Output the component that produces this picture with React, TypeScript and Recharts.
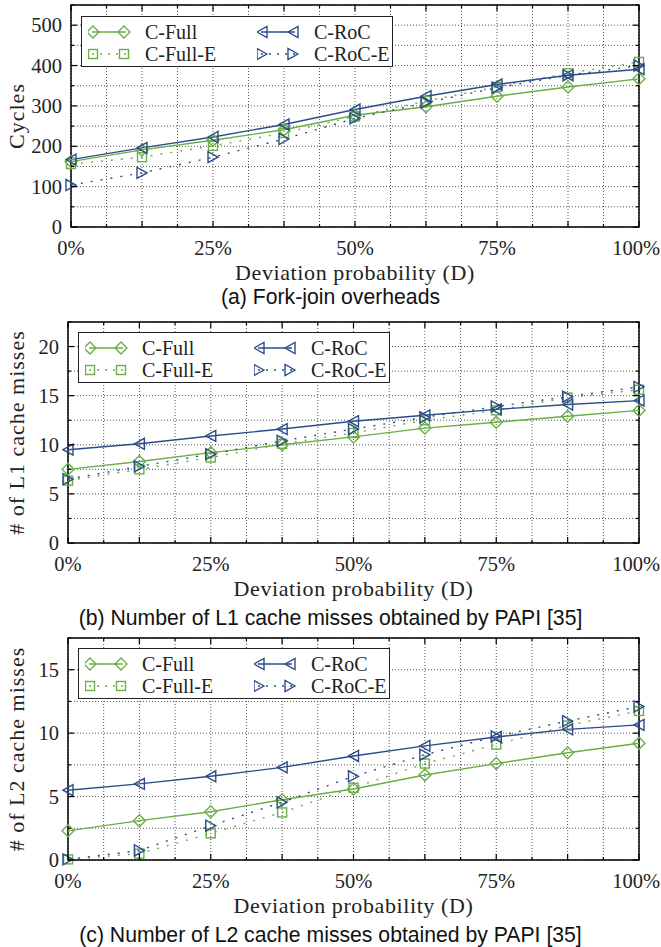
import React from "react";
import { LineChart, Line, XAxis, YAxis, CartesianGrid, ReferenceArea, Label } from "recharts";

const deviation = [0, 12.5, 25, 37.5, 50, 62.5, 75, 87.5, 100];
const xTicks = [0, 6.25, 12.5, 18.75, 25, 31.25, 37.5, 43.75, 50, 56.25, 62.5, 68.75, 75, 81.25, 87.5, 93.75, 100];

// (a) fork-join overheads, cycles
const cyclesFull = [162, 191, 215, 241, 277, 298, 324, 347, 367];
const cyclesFullE = [156, 173, 201, 233, 274, 312, 347, 381, 409];
const cyclesRoc = [167, 196, 223, 254, 291, 324, 353, 376, 391];
const cyclesRocE = [104, 134, 173, 218, 269, 308, 345, 376, 400];
const cyclesTicks = [0, 50, 100, 150, 200, 250, 300, 350, 400, 450, 500, 550];

// (b) L1 cache misses
const l1Full = [7.5, 8.3, 9.2, 10.0, 10.8, 11.7, 12.3, 12.9, 13.5];
const l1FullE = [6.35, 7.5, 8.7, 10.1, 11.2, 12.5, 13.5, 14.8, 15.6];
const l1Roc = [9.5, 10.1, 10.9, 11.6, 12.4, 13.0, 13.6, 14.1, 14.5];
const l1RocE = [6.5, 7.8, 9.05, 10.4, 11.6, 12.8, 13.9, 14.9, 15.9];
const l1Ticks = [0, 2.5, 5, 7.5, 10, 12.5, 15, 17.5, 20, 22.5];

// (c) L2 cache misses
const l2Full = [2.3, 3.1, 3.8, 4.75, 5.6, 6.7, 7.6, 8.45, 9.2];
const l2FullE = [0.05, 0.5, 2.1, 3.75, 5.7, 7.6, 9.1, 10.6, 11.75];
const l2Roc = [5.5, 6.0, 6.6, 7.3, 8.2, 9.0, 9.7, 10.3, 10.65];
const l2RocE = [0.05, 0.75, 2.7, 4.55, 6.6, 8.3, 9.75, 10.95, 12.1];
const l2Ticks = [0, 2.5, 5, 7.5, 10, 12.5, 15, 17.5];

const GREEN = "#6aae45";
const BLUE = "#2b4c88";
const SERIF = "'Liberation Serif', 'DejaVu Serif', serif";
const SANS = "'Liberation Sans', Arial, sans-serif";

const seriesDefs = [
  { key: "full", name: "C-Full", color: GREEN, dash: undefined as string | undefined, shape: "diamond" },
  { key: "fullE", name: "C-Full-E", color: GREEN, dash: "2 8", shape: "square" },
  { key: "roc", name: "C-RoC", color: BLUE, dash: undefined as string | undefined, shape: "left" },
  { key: "rocE", name: "C-RoC-E", color: BLUE, dash: "2 8", shape: "right" },
];

function Marker({ cx, cy, shape, color }: { cx: number; cy: number; shape: string; color: string }) {
  if (cx == null || cy == null) return null;
  const common = { fill: "none", stroke: color, strokeWidth: 1.4 };
  if (shape === "diamond") {
    return <polygon points={`${cx - 6},${cy} ${cx},${cy - 6} ${cx + 6},${cy} ${cx},${cy + 6}`} {...common} />;
  }
  if (shape === "square") {
    return <rect x={cx - 4.5} y={cy - 4.5} width={9} height={9} {...common} />;
  }
  if (shape === "left") {
    return <polygon points={`${cx - 5},${cy} ${cx + 5},${cy - 5.5} ${cx + 5},${cy + 5.5}`} {...common} />;
  }
  return <polygon points={`${cx + 5},${cy} ${cx - 5},${cy - 5.5} ${cx - 5},${cy + 5.5}`} {...common} />;
}

function LegendBox({ left, top }: { left: number; top: number }) {
  const item = (s: (typeof seriesDefs)[number]) => (
    <div key={s.key} style={{ display: "flex", alignItems: "center", height: 18 }}>
      <svg width={44} height={16} style={{ marginRight: 13 }}>
        <line x1={4} y1={8} x2={38} y2={8} stroke={s.color} strokeWidth={1.4} strokeDasharray={s.dash ? "2 6" : undefined} />
        <Marker cx={5} cy={8} shape={s.shape} color={s.color} />
        <Marker cx={36} cy={8} shape={s.shape} color={s.color} />
      </svg>
      <span>{s.name}</span>
    </div>
  );
  return (
    <div
      style={{
        position: "absolute",
        left,
        top,
        border: "1.5px solid #222",
        background: "#fff",
        width: 312,
        height: 51,
        boxSizing: "border-box",
        padding: "6px 0 0 6px",
        display: "grid",
        gridTemplateColumns: "169px 138px",
        fontFamily: SERIF,
        fontSize: 20,
        color: "#222",
        lineHeight: "18px",
      }}
    >
      {item(seriesDefs[0])}
      {item(seriesDefs[2])}
      {item(seriesDefs[1])}
      {item(seriesDefs[3])}
    </div>
  );
}

type PanelProps = {
  top: number;
  height: number;
  plotTop: number;
  plotBottom: number;
  plotLeft: number;
  yTicks: number[];
  yMajor: number;
  yLabel: string;
  caption: string;
  captionTop: number;
  legendLeft: number;
  legendTop: number;
  full: number[];
  fullE: number[];
  roc: number[];
  rocE: number[];
};

const PLOT_RIGHT = 639;

function Panel(p: PanelProps) {
  const rows = deviation.map((d, i) => ({ d, full: p.full[i], fullE: p.fullE[i], roc: p.roc[i], rocE: p.rocE[i] }));
  const yMax = p.yTicks[p.yTicks.length - 1];
  const axisBottom = p.plotBottom - p.top;
  const axisTop = p.plotTop - p.top;

  const XTick = (props: any) => {
    const { x, payload } = props;
    const v = payload.value;
    const len = v % 12.5 === 0 ? 6 : 3;
    const last = v === 100;
    return (
      <g>
        <line x1={x} x2={x} y1={axisBottom} y2={axisBottom - len} stroke="#000" strokeWidth={1.2} />
        <line x1={x} x2={x} y1={axisTop} y2={axisTop + len} stroke="#000" strokeWidth={1.2} />
        {v % 25 === 0 && (
          <text
            x={last ? 660 : x}
            y={axisBottom + 28}
            textAnchor={last ? "end" : "middle"}
            fontFamily={SERIF}
            fontSize={20.5}
            fill="#222"
          >
            {v}%
          </text>
        )}
      </g>
    );
  };

  const YTick = (props: any) => {
    const { y, payload } = props;
    const v = payload.value;
    const major = v % p.yMajor === 0;
    const len = major ? 6 : 3;
    return (
      <g>
        <line x1={p.plotLeft} x2={p.plotLeft + len} y1={y} y2={y} stroke="#000" strokeWidth={1.2} />
        <line x1={PLOT_RIGHT} x2={PLOT_RIGHT - len} y1={y} y2={y} stroke="#000" strokeWidth={1.2} />
        {major && v !== yMax && (
          <text x={p.plotLeft - 9} y={y + 7} textAnchor="end" fontFamily={SERIF} fontSize={20.5} fill="#222">
            {v}
          </text>
        )}
      </g>
    );
  };

  return (
    <div style={{ position: "absolute", left: 0, top: p.top, width: 661, height: p.height }}>
      <LineChart
        width={661}
        height={p.height}
        data={rows}
        margin={{ top: p.plotTop - p.top, right: 661 - PLOT_RIGHT, bottom: 0, left: 0 }}
      >
        <CartesianGrid stroke="#555" strokeDasharray="1 2" strokeWidth={1} />
        <XAxis
          dataKey="d"
          type="number"
          domain={[0, 100]}
          ticks={xTicks}
          interval={0}
          height={p.height - axisBottom}
          tickSize={0}
          tickMargin={0}
          axisLine={false}
          tick={<XTick />}
        >
          <Label
            content={() => (
              <text
                x={(p.plotLeft + PLOT_RIGHT) / 2}
                y={axisBottom + 53}
                textAnchor="middle"
                fontFamily={SERIF}
                fontSize={22}
                letterSpacing={0.6}
                fill="#222"
              >
                Deviation probability (D)
              </text>
            )}
          />
        </XAxis>
        <YAxis
          type="number"
          domain={[0, yMax]}
          ticks={p.yTicks}
          interval={0}
          width={p.plotLeft}
          tickSize={0}
          tickMargin={0}
          axisLine={false}
          tick={<YTick />}
        >
          <Label
            content={() => {
              const cy = (axisTop + axisBottom) / 2;
              return (
                <text
                  x={16}
                  y={cy}
                  transform={`rotate(-90, 16, ${cy})`}
                  textAnchor="middle"
                  dominantBaseline="central"
                  fontFamily={SERIF}
                  fontSize={22}
                  letterSpacing={1}
                  fill="#222"
                >
                  {p.yLabel}
                </text>
              );
            }}
          />
        </YAxis>
        <ReferenceArea x1={0} x2={100} y1={0} y2={yMax} fill="none" fillOpacity={0} stroke="#000" strokeWidth={1.5} ifOverflow="visible" />
        {seriesDefs.map((s) => (
          <Line
            key={s.key}
            dataKey={s.key}
            name={s.name}
            stroke={s.color}
            strokeWidth={1.4}
            strokeDasharray={s.dash}
            isAnimationActive={false}
            dot={(dp: any) => <Marker key={`${s.key}-${dp.index}`} cx={dp.cx} cy={dp.cy} shape={s.shape} color={s.color} />}
            activeDot={false}
          />
        ))}
      </LineChart>
      <LegendBox left={p.legendLeft} top={p.legendTop - p.top} />
      <div
        style={{
          position: "absolute",
          left: 0,
          width: 661,
          top: p.captionTop - p.top,
          textAlign: "center",
          fontFamily: SANS,
          fontSize: 21.2,
          color: "#111",
          lineHeight: "22px",
        }}
      >
        {p.caption}
      </div>
    </div>
  );
}

export default function App() {
  return (
    <div style={{ position: "absolute", left: 0, top: 0, width: 661, height: 947, background: "#fff" }}>
      <Panel
        top={0}
        height={285}
        plotTop={5}
        plotBottom={227}
        plotLeft={71}
        yTicks={cyclesTicks}
        yMajor={100}
        yLabel="Cycles"
        caption="(a) Fork-join overheads"
        captionTop={286}
        legendLeft={81}
        legendTop={16}
        full={cyclesFull}
        fullE={cyclesFullE}
        roc={cyclesRoc}
        rocE={cyclesRocE}
      />
      <Panel
        top={310}
        height={295}
        plotTop={322}
        plotBottom={543}
        plotLeft={68}
        yTicks={l1Ticks}
        yMajor={5}
        yLabel="# of L1 cache misses"
        caption="(b) Number of L1 cache misses obtained by PAPI [35]"
        captionTop={607}
        legendLeft={78}
        legendTop={332}
        full={l1Full}
        fullE={l1FullE}
        roc={l1Roc}
        rocE={l1RocE}
      />
      <Panel
        top={626}
        height={297}
        plotTop={638}
        plotBottom={860}
        plotLeft={68}
        yTicks={l2Ticks}
        yMajor={5}
        yLabel="# of L2 cache misses"
        caption="(c) Number of L2 cache misses obtained by PAPI [35]"
        captionTop={924}
        legendLeft={78}
        legendTop={648}
        full={l2Full}
        fullE={l2FullE}
        roc={l2Roc}
        rocE={l2RocE}
      />
    </div>
  );
}
